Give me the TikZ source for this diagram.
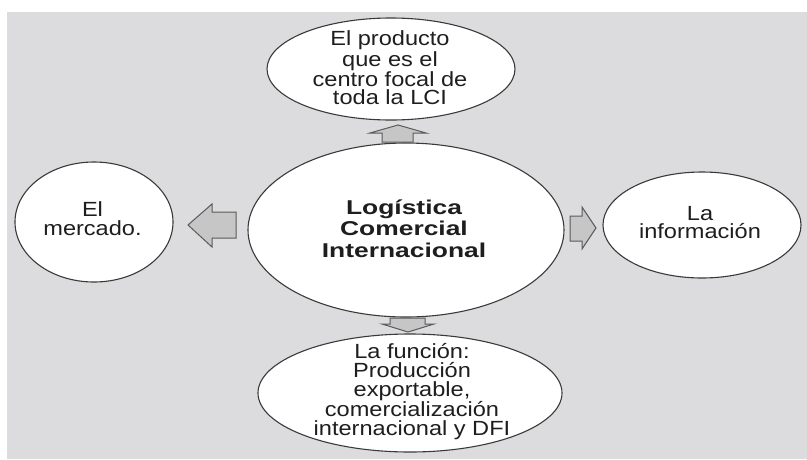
\documentclass[tikz,border=0pt]{standalone}
\usepackage{fontspec}
\usetikzlibrary{shapes.geometric}
\newfontfamily\regf[FakeStretch=1.15]{Liberation Sans}
\newfontfamily\boldf[FakeStretch=1.32]{Liberation Sans}
\definecolor{bg}{HTML}{DCDCDE}
\definecolor{edge}{HTML}{3A3A3A}
\definecolor{ink}{HTML}{1E1E1E}
\definecolor{arrfill}{HTML}{C6C6C6}
\definecolor{arredge}{HTML}{5A5A5A}
\begin{document}
\begin{tikzpicture}[x=1pt,y=-1pt,
  oval/.style={ellipse,draw=edge,line width=1.1pt,fill=white,inner sep=0pt},
  txt/.style={align=center,inner sep=0pt,text=ink,font=\regf\fontsize{20.5}{18.6}\selectfont},
  bigtxt/.style={align=center,inner sep=0pt,text=ink,font=\boldf\bfseries\fontsize{20}{21.5}\selectfont},
  blockarrow/.style={draw=arredge,line width=1pt,fill=arrfill,line join=miter}]
\useasboundingbox (0,0) rectangle (807,459);
\fill[white] (0,0) rectangle (807,459);
\fill[bg] (7,12) rectangle (807,459);

\node[oval,minimum width=248,minimum height=102] (prod) at (391,69) {};
\node[oval,minimum width=316,minimum height=174] (lci) at (406,230) {};
\node[oval,minimum width=158,minimum height=120] (merc) at (94,222) {};
\node[oval,minimum width=198,minimum height=106] (info) at (702,225) {};
\node[oval,minimum width=304,minimum height=118] (func) at (410,393) {};

\node[txt] (prodt) at (390,68) {El producto\\que es el\\centro focal de\\toda la LCI};
\node[bigtxt] (lcit) at (404,228.5) {Logística\\Comercial\\Internacional};
\node[txt] (merct) at (92.5,218.5) {El\\mercado.};
\node[txt] (infot) at (700,222.5) {La\\información};
\node[txt] (funct) at (412,391.5) {La función:\\Producción\\exportable,\\comercialización\\internacional y DFI};

% block arrows
\path[blockarrow] (382,142) -- (382,133) -- (370,133) -- (398,125) -- (426,133) -- (413,133) -- (413,142) -- cycle;
\path[blockarrow] (390,318) -- (425,318) -- (425,324) -- (434,324) -- (408,332) -- (382,324) -- (390,324) -- cycle;
\path[blockarrow] (236,212) -- (212,212) -- (212,204) -- (188,225) -- (212,247) -- (212,238) -- (236,238) -- cycle;
\path[blockarrow] (570,216) -- (582,216) -- (582,207) -- (596,228) -- (582,249) -- (582,241) -- (570,241) -- cycle;
\end{tikzpicture}
\end{document}
